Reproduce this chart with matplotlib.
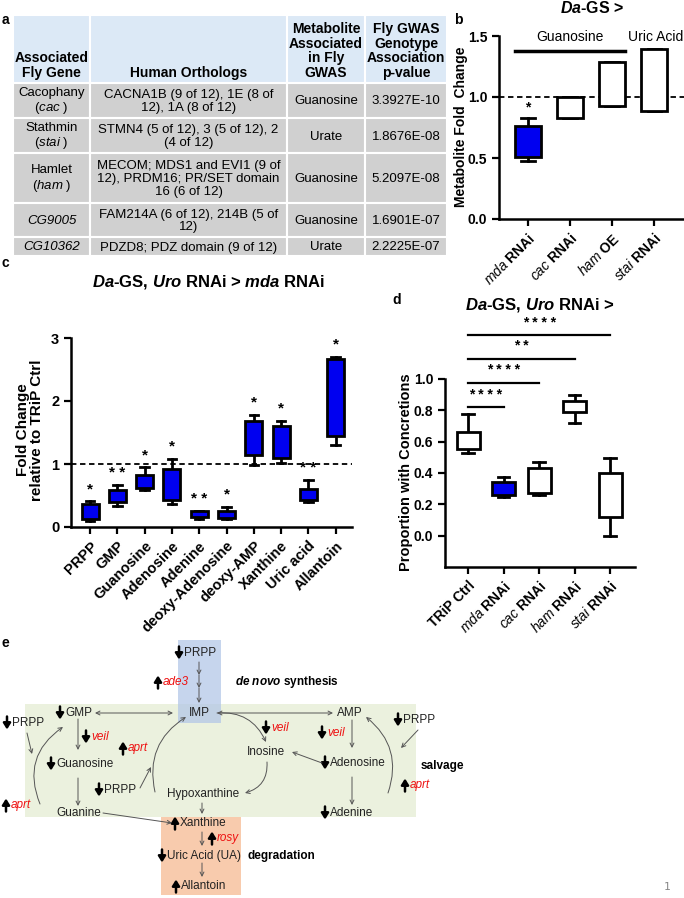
import matplotlib
matplotlib.use("Agg")
import matplotlib.pyplot as plt
from matplotlib.patches import Rectangle

plt.rcParams["font.family"] = ["Liberation Sans", "DejaVu Sans"]
plt.rcParams["mathtext.fontset"] = "custom"
plt.rcParams["mathtext.rm"] = "Liberation Sans"
plt.rcParams["mathtext.it"] = "Liberation Sans:italic"
plt.rcParams["mathtext.bf"] = "Liberation Sans:bold"
plt.rcParams["mathtext.bfit"] = "Liberation Sans:italic:bold"

W, H = 684, 898
BLUE = "#0000f0"

# ---- panel a: table ----
tbl_header = ["Associated\nFly Gene", "Human Orthologs",
              "Metabolite\nAssociated\nin Fly\nGWAS",
              "Fly GWAS\nGenotype\nAssociation\np-value"]
tbl_genes = ["Cacophany\n($\\mathit{cac}$ )", "Stathmin\n($\\mathit{stai}$ )",
             "Hamlet\n($\\mathit{ham}$ )", "CG9005", "CG10362"]
tbl_orthologs = ["CACNA1B (9 of 12), 1E (8 of\n12), 1A (8 of 12)",
                 "STMN4 (5 of 12), 3 (5 of 12), 2\n(4 of 12)",
                 "MECOM; MDS1 and EVI1 (9 of\n12), PRDM16; PR/SET domain\n16 (6 of 12)",
                 "FAM214A (6 of 12), 214B (5 of\n12)",
                 "PDZD8; PDZ domain (9 of 12)"]
tbl_metab = ["Guanosine", "Urate", "Guanosine", "Guanosine", "Urate"]
tbl_pval = ["3.3927E-10", "1.8676E-08", "5.2097E-08", "1.6901E-07", "2.2225E-07"]

# ---- panel b ----
b_labels = ["$\\mathit{mda}$ RNAi", "$\\mathit{cac}$ RNAi", "$\\mathit{ham}$ OE", "$\\mathit{stai}$ RNAi"]
b_q1 = [0.51, 0.83, 0.93, 0.885]
b_med = [0.55, 0.91, 1.11, 1.09]
b_q3 = [0.765, 1.00, 1.29, 1.39]
b_lo = [0.475, 0.83, 0.93, 0.885]
b_hi = [0.83, 1.00, 1.29, 1.39]
b_fill = [BLUE, "white", "white", "white"]

# ---- panel c ----
c_labels = ["PRPP", "GMP", "Guanosine", "Adenosine", "Adenine", "deoxy-Adenosine",
            "deoxy-AMP", "Xanthine", "Uric acid", "Allantoin"]
c_q1 = [0.12, 0.40, 0.62, 0.43, 0.16, 0.15, 1.14, 1.10, 0.43, 1.45]
c_med = [0.24, 0.50, 0.70, 0.71, 0.20, 0.21, 1.34, 1.34, 0.52, 2.10]
c_q3 = [0.36, 0.58, 0.83, 0.92, 0.25, 0.26, 1.69, 1.61, 0.61, 2.66]
c_lo = [0.09, 0.33, 0.58, 0.37, 0.12, 0.13, 0.98, 1.02, 0.39, 1.30]
c_hi = [0.41, 0.67, 0.95, 1.08, 0.26, 0.32, 1.78, 1.69, 0.75, 2.70]
c_stars = ["*", "* *", "*", "*", "* *", "*", "*", "*", "* *", "*"]

# ---- panel d ----
d_labels = ["TRiP Ctrl", "$\\mathit{mda}$ RNAi", "$\\mathit{cac}$ RNAi",
            "$\\mathit{ham}$ RNAi", "$\\mathit{stai}$ RNAi"]
d_q1 = [0.556, 0.26, 0.27, 0.79, 0.12]
d_med = [0.613, 0.28, 0.36, 0.845, 0.25]
d_q3 = [0.664, 0.345, 0.43, 0.86, 0.40]
d_lo = [0.53, 0.25, 0.257, 0.722, 0.0]
d_hi = [0.775, 0.375, 0.473, 0.898, 0.497]
d_fill = ["white", BLUE, "white", "white", "white"]
d_sig = [(1, "* * * *", 0.82), (2, "* * * *", 0.975), (3, "* *", 1.13), (4, "* * * *", 1.28)]


def px_axes(l, t, r, b):
    return fig.add_axes([l / W, 1 - b / H, (r - l) / W, (b - t) / H])


def boxes(ax, q1, med, q3, lo, hi, fills, width):
    stats = [dict(q1=a, med=m, q3=c, whislo=l, whishi=h, fliers=[])
             for a, m, c, l, h in zip(q1, med, q3, lo, hi)]
    bp = ax.bxp(stats, positions=range(len(stats)), widths=width, patch_artist=True,
                showfliers=False,
                boxprops=dict(linewidth=2, edgecolor="black"),
                medianprops=dict(color="black", linewidth=2),
                whiskerprops=dict(linewidth=2), capprops=dict(linewidth=2))
    for p, f in zip(bp["boxes"], fills):
        p.set_facecolor(f)
        p.set_zorder(3)


def style(ax, fs=10):
    for s in ["top", "right"]:
        ax.spines[s].set_visible(False)
    for s in ["left", "bottom"]:
        ax.spines[s].set_linewidth(1.8)
    ax.tick_params(width=1.6, length=5, labelsize=fs)
    for t in ax.get_yticklabels():
        t.set_fontweight("bold")
    ax.patch.set_alpha(0)


fig = plt.figure(figsize=(W / 100, H / 100), dpi=100)
cv = fig.add_axes([0, 0, 1, 1])
cv.set_xlim(0, W)
cv.set_ylim(H, 0)
cv.axis("off")

# table
cols = [13, 90, 287, 365, 447]
rows = [15, 83, 118, 153, 203, 237, 256]
for i in range(len(rows) - 1):
    for j in range(len(cols) - 1):
        cv.add_patch(Rectangle((cols[j], rows[i]), cols[j + 1] - cols[j], rows[i + 1] - rows[i],
                               facecolor="#dce9f6" if i == 0 else "#d0d0d0",
                               edgecolor="white", lw=1.5))
        xc = (cols[j] + cols[j + 1]) / 2
        if i == 0:
            cv.text(xc, rows[1] - 3, tbl_header[j], ha="center", va="bottom",
                    fontsize=10, fontweight="bold", linespacing=1.05)
        else:
            txt = [tbl_genes, tbl_orthologs, tbl_metab, tbl_pval][j][i - 1]
            ital = j == 0 and txt.startswith("CG")
            cv.text(xc, (rows[i] + rows[i + 1]) / 2 + 1, txt, ha="center", va="center",
                    fontsize=9.5, linespacing=1.1, style="italic" if ital else "normal")

# panel labels and page number
for lab, x, y in [("a", 5, 20), ("b", 458, 20), ("c", 5, 263), ("d", 397, 300), ("e", 5, 643)]:
    cv.text(x, y, lab, fontsize=10, fontweight="bold", ha="center", va="center")
cv.text(667, 887, "1", fontsize=8, color="#888888", family="DejaVu Sans Mono", ha="center", va="center")

# titles and y labels
cv.text(592, 8, "$\\mathbfit{Da}$-GS >", fontsize=11.5, fontweight="bold", ha="center", va="center")
cv.text(209, 282, "$\\mathbfit{Da}$-GS, $\\mathbfit{Uro}$ RNAi > $\\mathbfit{mda}$ RNAi",
        fontsize=12, fontweight="bold", ha="center", va="center")
cv.text(540, 305, "$\\mathbfit{Da}$-GS, $\\mathbfit{Uro}$ RNAi >",
        fontsize=12, fontweight="bold", ha="center", va="center")
cv.text(461, 127, "Metabolite Fold  Change", rotation=90, fontsize=10, fontweight="bold",
        ha="center", va="center")
cv.text(30, 430, "Fold Change\nrelative to TRiP Ctrl", rotation=90, fontsize=11,
        fontweight="bold", ha="center", va="center", linespacing=1.05)
cv.text(406, 472, "Proportion with Concretions", rotation=90, fontsize=10.5,
        fontweight="bold", ha="center", va="center")

# ---- panel b axes ----
axb = px_axes(499, 36, 684, 219)
axb.axhline(1.0, color="black", lw=1.3, ls=(0, (3, 2)), zorder=1)
boxes(axb, b_q1, b_med, b_q3, b_lo, b_hi, b_fill, 0.63)
axb.set_xlim(-0.69, 3.71)
axb.set_ylim(0, 1.5)
axb.set_yticks([0, 0.5, 1.0, 1.5])
axb.set_yticklabels(["0.0", "0.5", "1.0", "1.5"])
axb.set_xticks(range(len(b_labels)))
axb.set_xticklabels(b_labels, rotation=45, ha="right", rotation_mode="anchor", fontweight="bold")
style(axb)
axb.plot([-0.31, 2.31], [1.38, 1.38], color="black", lw=2.5)
axb.text(1.0, 1.49, "Guanosine", ha="center", va="center", fontsize=10, clip_on=False)
axb.text(3.70, 1.49, "Uric Acid", ha="right", va="center", fontsize=10, clip_on=False)
axb.text(0, 0.86, "*", ha="center", va="bottom", fontsize=10, fontweight="bold")

# ---- panel c axes ----
axc = px_axes(71, 338, 352, 527)
axc.axhline(1.0, color="black", lw=1.3, ls=(0, (3, 2)), zorder=1)
boxes(axc, c_q1, c_med, c_q3, c_lo, c_hi, [BLUE] * len(c_q1), 0.62)
axc.set_xlim(-0.7, 9.6)
axc.set_ylim(0, 3)
axc.set_yticks([0, 1, 2, 3])
axc.set_xticks(range(len(c_labels)))
axc.set_xticklabels(c_labels, rotation=45, ha="right", rotation_mode="anchor", fontweight="bold")
style(axc, 10.5)
for i, (s, h) in enumerate(zip(c_stars, c_hi)):
    axc.text(i, h + 0.08, s, ha="center", va="bottom", fontsize=11, fontweight="bold")

# ---- panel d axes ----
axd = px_axes(445, 379, 635, 567)
boxes(axd, d_q1, d_med, d_q3, d_lo, d_hi, d_fill, 0.65)
axd.set_xlim(-0.65, 4.7)
axd.set_ylim(-0.2, 1.0)
axd.set_yticks([0, 0.2, 0.4, 0.6, 0.8, 1.0])
axd.set_yticklabels(["0.0", "0.2", "0.4", "0.6", "0.8", "1.0"])
axd.set_xticks(range(len(d_labels)))
axd.set_xticklabels(d_labels, rotation=45, ha="right", rotation_mode="anchor", fontweight="bold")
style(axd)
for j, s, y in d_sig:
    axd.plot([0, j], [y, y], color="black", lw=1.6, clip_on=False)
    axd.text(j / 2, y + 0.035, s, ha="center", va="bottom", fontsize=10, fontweight="bold",
             clip_on=False)

# ---- panel e: pathway ----
cv.add_patch(Rectangle((25, 704), 391, 113, facecolor="#ebf1de", edgecolor="none"))
cv.add_patch(Rectangle((178, 640), 43, 83, facecolor="#b4c7e7", edgecolor="none", alpha=0.75))
cv.add_patch(Rectangle((161, 817), 80, 78, facecolor="#f8cbad", edgecolor="none"))


def arr(x1, y1, x2, y2, rad=0.0, both=False):
    cv.annotate("", xy=(x2, y2), xytext=(x1, y1),
                arrowprops=dict(arrowstyle="<->" if both else "->", color="#555555", lw=0.7,
                                shrinkA=0, shrinkB=0, mutation_scale=7,
                                connectionstyle=f"arc3,rad={rad}"))


def node(x, y, txt, updown=None, red=False):
    if updown:
        ay = 6.5 if updown == "down" else -6.5
        cv.annotate("", xy=(x - 5, y + ay), xytext=(x - 5, y - ay),
                    arrowprops=dict(arrowstyle="-|>,head_width=0.22,head_length=0.35",
                                    color="black", lw=1.8, shrinkA=0, shrinkB=0,
                                    mutation_scale=10))
    cv.text(x, y, txt, fontsize=8.5, ha="left", va="center",
            color="#ee1111" if red else "#222222", style="italic" if red else "normal")


node(184, 653, "PRPP", "down")
node(163, 682, "ade3", "up", red=True)
cv.text(235, 682, "$\\mathbfit{de\\ novo}$ synthesis", fontsize=8.5, fontweight="bold", va="center")
cv.text(199, 713, "IMP", fontsize=8.5, ha="center", va="center", color="#222222")
node(65, 713, "GMP", "down")
node(12, 723, "PRPP", "down")
node(91, 737, "veil", "down", red=True)
node(56, 764, "Guanosine", "down")
node(128, 748, "aprt", "up", red=True)
node(104, 790, "PRPP", "down")
node(56, 813, "Guanine")
node(11, 805, "aprt", "up", red=True)
node(167, 794, "Hypoxanthine")
cv.text(266, 752, "Inosine", fontsize=8.5, ha="center", va="center", color="#222222")
node(271, 728, "veil", "down", red=True)
node(180, 823, "Xanthine", "up")
node(217, 838, "rosy", "up", red=True)
node(167, 856, "Uric Acid (UA)", "down")
cv.text(247, 856, "degradation", fontsize=8.5, fontweight="bold", va="center")
node(181, 886, "Allantoin", "up")
node(337, 713, "AMP")
node(327, 733, "veil", "down", red=True)
node(330, 763, "Adenosine", "down")
node(330, 813, "Adenine", "down")
node(403, 720, "PRPP", "down")
node(410, 785, "aprt", "up", red=True)
cv.text(421, 766, "salvage", fontsize=8.5, fontweight="bold", va="center")

arr(199, 662, 199, 675)
arr(199, 675, 199, 688)
arr(199, 688, 199, 703)
arr(95, 713, 173, 713, both=True)
arr(217, 713, 333, 713, both=True)
arr(78, 719, 78, 750)
arr(78, 778, 78, 806)
arr(103, 813, 172, 823)
arr(202, 803, 202, 814)
arr(322, 763, 292, 752)
arr(352, 720, 352, 748)
arr(352, 777, 352, 805)
arr(202, 832, 202, 846)
arr(202, 863, 202, 877)
arr(27, 733, 32, 754)
arr(140, 788, 151, 767)
arr(418, 730, 401, 748)
arr(40, 804, 63, 727, rad=-0.4)
arr(155, 792, 186, 717, rad=-0.35)
arr(217, 713, 266, 742, rad=-0.35)
arr(267, 762, 245, 793, rad=-0.4)
arr(388, 793, 366, 717, rad=0.35)

fig.savefig("out.png", dpi=100)
